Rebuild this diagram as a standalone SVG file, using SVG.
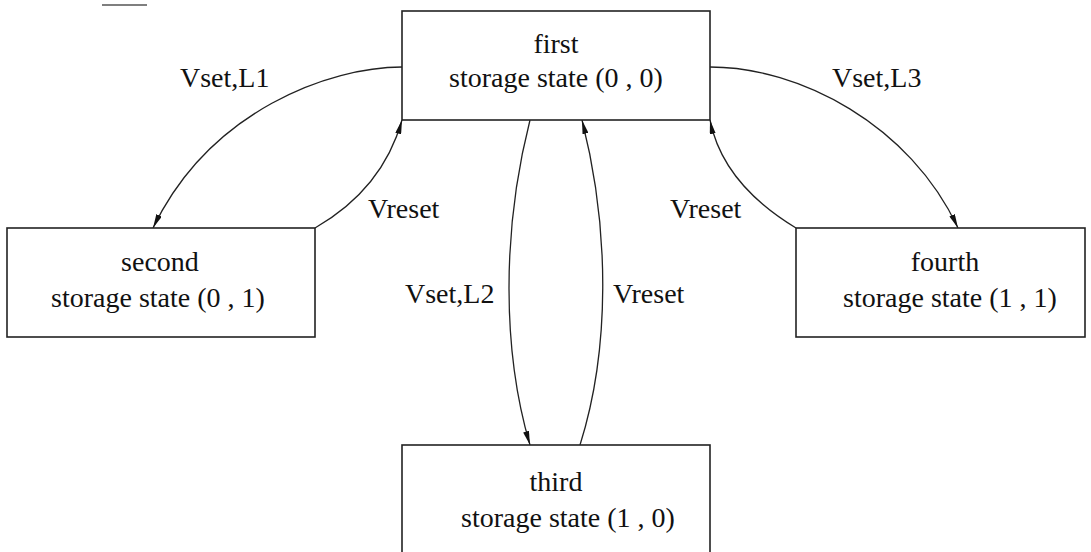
<svg xmlns="http://www.w3.org/2000/svg" width="1091" height="552" viewBox="0 0 1091 552">
<style>
.box{fill:#fff;stroke:#222;stroke-width:1.6}
.t{font-family:"Liberation Serif","Times New Roman",serif;font-size:28px;fill:#111;text-anchor:middle}
.l{font-family:"Liberation Serif","Times New Roman",serif;font-size:28px;fill:#111}
.c{fill:none;stroke:#222;stroke-width:1.3}
</style>
<defs>
<marker id="ah" viewBox="0 0 14 6" refX="14" refY="3" markerWidth="14" markerHeight="6" markerUnits="userSpaceOnUse" orient="auto">
<path d="M0,0 L14,3 L0,6 Z" fill="#111"/>
</marker>
</defs>
<line x1="102" y1="5" x2="147" y2="5" stroke="#555" stroke-width="1.3"/>
<g id="connectors">
<path class="c" d="M402,67 C330,67 210,110 153,228" marker-end="url(#ah)"/>
<path class="c" d="M315,228 C355,205 388,170 402,120" marker-end="url(#ah)"/>
<path class="c" d="M710,67 C800,67 910,125 958,228" marker-end="url(#ah)"/>
<path class="c" d="M796,228 C758,205 720,170 710,120" marker-end="url(#ah)"/>
<path class="c" d="M530,120 C502,230 502,350 530,445" marker-end="url(#ah)"/>
<path class="c" d="M580,445 C610,350 610,230 582,120" marker-end="url(#ah)"/>
<text class="l" x="180" y="87">Vset,L1</text>
<text class="l" x="832" y="87">Vset,L3</text>
<text class="l" x="368" y="218">Vreset</text>
<text class="l" x="670" y="218">Vreset</text>
<text class="l" x="405" y="303">Vset,L2</text>
<text class="l" x="613" y="303">Vreset</text>
</g>
<g id="first">
<rect class="box" x="402" y="11" width="308" height="109"/>
<text class="t" x="556" y="53">first</text>
<text class="t" x="556" y="87">storage state (0 , 0)</text>
</g>
<g id="second">
<rect class="box" x="7" y="228" width="308" height="109"/>
<text class="t" x="160" y="271">second</text>
<text class="t" x="158" y="307">storage state (0 , 1)</text>
</g>
<g id="fourth">
<rect class="box" x="796" y="228" width="289" height="109"/>
<text class="t" x="945" y="271">fourth</text>
<text class="t" x="950" y="307">storage state (1 , 1)</text>
</g>
<g id="third">
<rect class="box" x="402" y="445" width="308" height="120"/>
<text class="t" x="556" y="491">third</text>
<text class="t" x="568" y="527">storage state (1 , 0)</text>
</g>
</svg>
